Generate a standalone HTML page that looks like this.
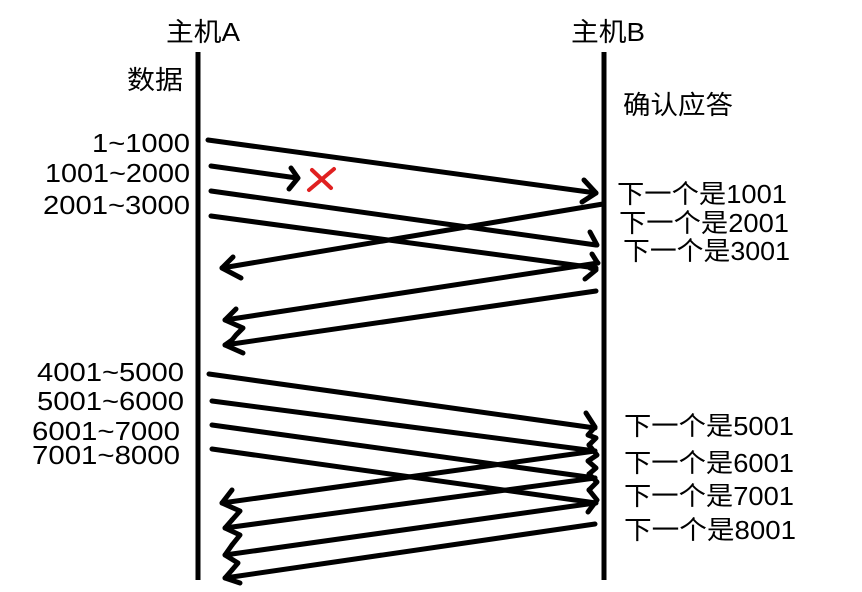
<!DOCTYPE html>
<html><head><meta charset="utf-8"><style>
html,body{margin:0;padding:0;background:#fff;}
svg{display:block;}
text{font-family:"Liberation Sans","Noto Sans CJK SC",sans-serif;font-size:26px;fill:#000;}
</style></head><body>
<svg width="862" height="592" viewBox="0 0 862 592">
<g stroke="#000" stroke-width="5" fill="none" stroke-linecap="round" stroke-linejoin="round">
<line x1="198" y1="52" x2="198" y2="580" stroke-linecap="butt"/>
<line x1="604" y1="52" x2="604" y2="580" stroke-linecap="butt"/>
<line x1="208" y1="140" x2="596" y2="193"/><polyline points="584,180 596,193 582,202"/>
<line x1="211" y1="166" x2="297" y2="178"/><polyline points="291,168 298,178 289,189"/>
<line x1="211" y1="191" x2="596" y2="245"/><polyline points="590,232 597,245"/>
<line x1="211" y1="216" x2="596" y2="268"/><polyline points="592,254 597,262 590,268 596,270 585,279"/>
<line x1="603" y1="204" x2="222" y2="268"/><polyline points="233,257 222,268 241,278"/>
<line x1="598" y1="263" x2="225" y2="320"/><polyline points="236,309 225,320 243,328 236,335 232,340"/>
<line x1="596" y1="291" x2="225" y2="345"/><polyline points="232,340 225,345 243,353"/>
<line x1="209" y1="374" x2="595" y2="428"/><polyline points="586,413 595,427 588,435 596,438 589,445"/>
<line x1="212" y1="401" x2="595" y2="451"/><polyline points="589,445 597,455 588,461 596,468 589,474"/>
<line x1="212" y1="425" x2="595" y2="478"/><polyline points="589,474 597,482 589,490"/>
<line x1="212" y1="449" x2="596" y2="503"/><polyline points="589,490 597,500 588,512"/>
<line x1="595" y1="451" x2="222" y2="503"/><polyline points="232,490 222,503 240,511 232,520"/>
<line x1="595" y1="478" x2="225" y2="528"/><polyline points="232,520 225,528 240,535 232,545"/>
<line x1="595" y1="503" x2="225" y2="555"/><polyline points="232,545 225,555 238,563 232,570"/>
<line x1="595" y1="524" x2="225" y2="578"/><polyline points="232,570 225,578 240,583"/>
</g>
<g stroke="#e02020" stroke-width="4" stroke-linecap="round">
<line x1="309" y1="190" x2="334" y2="169"/><line x1="312" y1="170" x2="331" y2="188"/>
</g>
<g lengthAdjust="spacingAndGlyphs">
<text x="166" y="41" textLength="74" lengthAdjust="spacingAndGlyphs">主机A</text>
<text x="571" y="41" textLength="74" lengthAdjust="spacingAndGlyphs">主机B</text>
<text x="127" y="89" textLength="56" lengthAdjust="spacingAndGlyphs">数据</text>
<text x="623" y="114" textLength="110" lengthAdjust="spacingAndGlyphs">确认应答</text>
<text x="92" y="152" textLength="98" lengthAdjust="spacingAndGlyphs">1~1000</text>
<text x="45" y="182" textLength="145" lengthAdjust="spacingAndGlyphs">1001~2000</text>
<text x="43" y="214" textLength="147" lengthAdjust="spacingAndGlyphs">2001~3000</text>
<text x="37" y="381" textLength="147" lengthAdjust="spacingAndGlyphs">4001~5000</text>
<text x="37" y="410" textLength="147" lengthAdjust="spacingAndGlyphs">5001~6000</text>
<text x="32" y="440" textLength="148" lengthAdjust="spacingAndGlyphs">6001~7000</text>
<text x="32" y="464" textLength="148" lengthAdjust="spacingAndGlyphs">7001~8000</text>
<text x="617" y="203" textLength="170" lengthAdjust="spacingAndGlyphs">下一个是1001</text>
<text x="619" y="232" textLength="170" lengthAdjust="spacingAndGlyphs">下一个是2001</text>
<text x="623" y="260" textLength="167" lengthAdjust="spacingAndGlyphs">下一个是3001</text>
<text x="624" y="435" textLength="170" lengthAdjust="spacingAndGlyphs">下一个是5001</text>
<text x="624" y="472" textLength="170" lengthAdjust="spacingAndGlyphs">下一个是6001</text>
<text x="624" y="505" textLength="170" lengthAdjust="spacingAndGlyphs">下一个是7001</text>
<text x="624" y="539" textLength="172" lengthAdjust="spacingAndGlyphs">下一个是8001</text>
</g>
</svg>
</body></html>
